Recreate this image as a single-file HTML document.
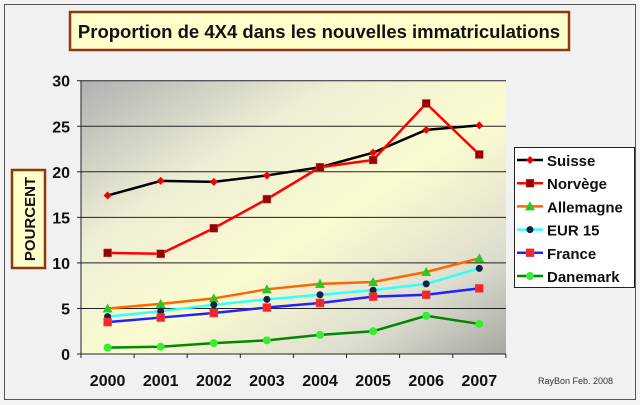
<!DOCTYPE html>
<html><head><style>
body{margin:0;background:#fff}
svg{display:block}
text{font-family:"Liberation Sans",Arial,sans-serif;font-weight:bold}
</style></head><body>
<svg id="s" width="640" height="405" xmlns="http://www.w3.org/2000/svg">
<defs>
<linearGradient id="pg" x1="0" y1="0" x2="1" y2="1">
<stop offset="0" stop-color="#b0b0b0"/>
<stop offset="0.3" stop-color="#eeeed6"/>
<stop offset="0.55" stop-color="#fbfbd0"/>
<stop offset="0.8" stop-color="#deded0"/>
<stop offset="1" stop-color="#a8a8a4"/>
</linearGradient>
</defs>
<rect x="0" y="0" width="640" height="405" fill="#f3f3f3"/>
<rect x="4.5" y="4.5" width="631" height="395" fill="#f1f1f1" stroke="#555" stroke-width="1"/>
<rect x="70" y="12" width="499" height="38" fill="#ffffcc" stroke="#8b3a10" stroke-width="2.5"/>
<text x="319" y="38" font-size="18.5" text-anchor="middle" fill="#111">Proportion de 4X4 dans les nouvelles immatriculations</text>
<rect x="81" y="81" width="425" height="273" fill="url(#pg)"/>
<g id="grid" stroke="#222" stroke-width="1"></g>
<rect x="12" y="170" width="33" height="98" fill="#ffffcc" stroke="#8b3a10" stroke-width="2.5"/>
<text transform="translate(35,219) rotate(-90)" font-size="15" text-anchor="middle" fill="#111">POURCENT</text>
<g id="lab"></g>
<g id="ser"></g>
<rect x="514.5" y="147.5" width="120" height="140" fill="#fff" stroke="#222"/>
<g id="leg"></g>
<text x="538" y="384" font-size="9" fill="#333" style="font-weight:normal">RayBon Feb. 2008</text>
</svg>
<script>
var NS="http://www.w3.org/2000/svg";
function el(p,t,a,tx){var e=document.createElementNS(NS,t);for(var k in a)e.setAttribute(k,a[k]);if(tx)e.textContent=tx;document.getElementById(p).appendChild(e);return e;}
function Y(v){return 354-v*9.11;}
function X(i){return 107.6+53.1*i;}
for(var v=5;v<=30;v+=5){el('grid','line',{x1:81,x2:506,y1:Y(v),y2:Y(v)});}
el('grid','line',{x1:81,x2:81,y1:81,y2:357});
el('grid','line',{x1:78,x2:506,y1:354,y2:354});
for(var v=0;v<=30;v+=5){el('grid','line',{x1:77,x2:81,y1:Y(v),y2:Y(v)});el('lab','text',{x:70,y:Y(v)+6,'font-size':16,'text-anchor':'end',fill:'#111'},''+v);}
for(var i=0;i<=8;i++)el('grid','line',{x1:81+53.1*i,x2:81+53.1*i,y1:354,y2:358});
for(var i=0;i<8;i++)el('lab','text',{x:X(i),y:386,'font-size':16,'text-anchor':'middle',fill:'#111'},''+(2000+i));
var S=[
["Suisse","#000","diamond","#e00",[17.4,19,18.9,19.6,20.5,22.1,24.6,25.1]],
["Norvège","#f00","square","#900",[11.1,11,13.8,17,20.5,21.3,27.5,21.9]],
["Allemagne","#f60","tri","#2c2",[5,5.5,6.1,7.1,7.7,7.9,9,10.5]],
["EUR 15","#3ff","circ","#124",[4.1,4.7,5.4,6,6.5,7,7.7,9.4]],
["France","#22f","square","#f22",[3.5,4,4.5,5.1,5.6,6.3,6.5,7.2]],
["Danemark","#080","circ","#3e3",[0.7,0.8,1.2,1.5,2.1,2.5,4.2,3.3]]];
function mk(g,t,x,y,c){
if(t=="diamond")el(g,'polygon',{points:(x-4)+","+y+" "+x+","+(y-4)+" "+(x+4)+","+y+" "+x+","+(y+4),fill:c});
else if(t=="square")el(g,'rect',{x:x-4,y:y-4,width:8,height:8,fill:c,stroke:'#b66','stroke-width':0.5});
else if(t=="tri")el(g,'polygon',{points:(x-5)+","+(y+4)+" "+x+","+(y-5)+" "+(x+5)+","+(y+4),fill:c});
else el(g,'circle',{cx:x,cy:y,r:c=="#124"?3.5:4,fill:c});}
S.forEach(function(s,j){
var p=s[4].map(function(v,i){return X(i)+","+Y(v);}).join(" ");
el('ser','polyline',{points:p,fill:'none',stroke:s[1],'stroke-width':2.5});
s[4].forEach(function(v,i){mk('ser',s[2],X(i),Y(v),s[3]);});
var ly=160+23.2*j;
el('leg','line',{x1:517,x2:543,y1:ly,y2:ly,stroke:s[1],'stroke-width':2.5});
mk('leg',s[2],530,ly,s[3]);
el('leg','text',{x:547,y:ly+6,'font-size':15,fill:'#111'},s[0]);
});
</script>
</body></html>
